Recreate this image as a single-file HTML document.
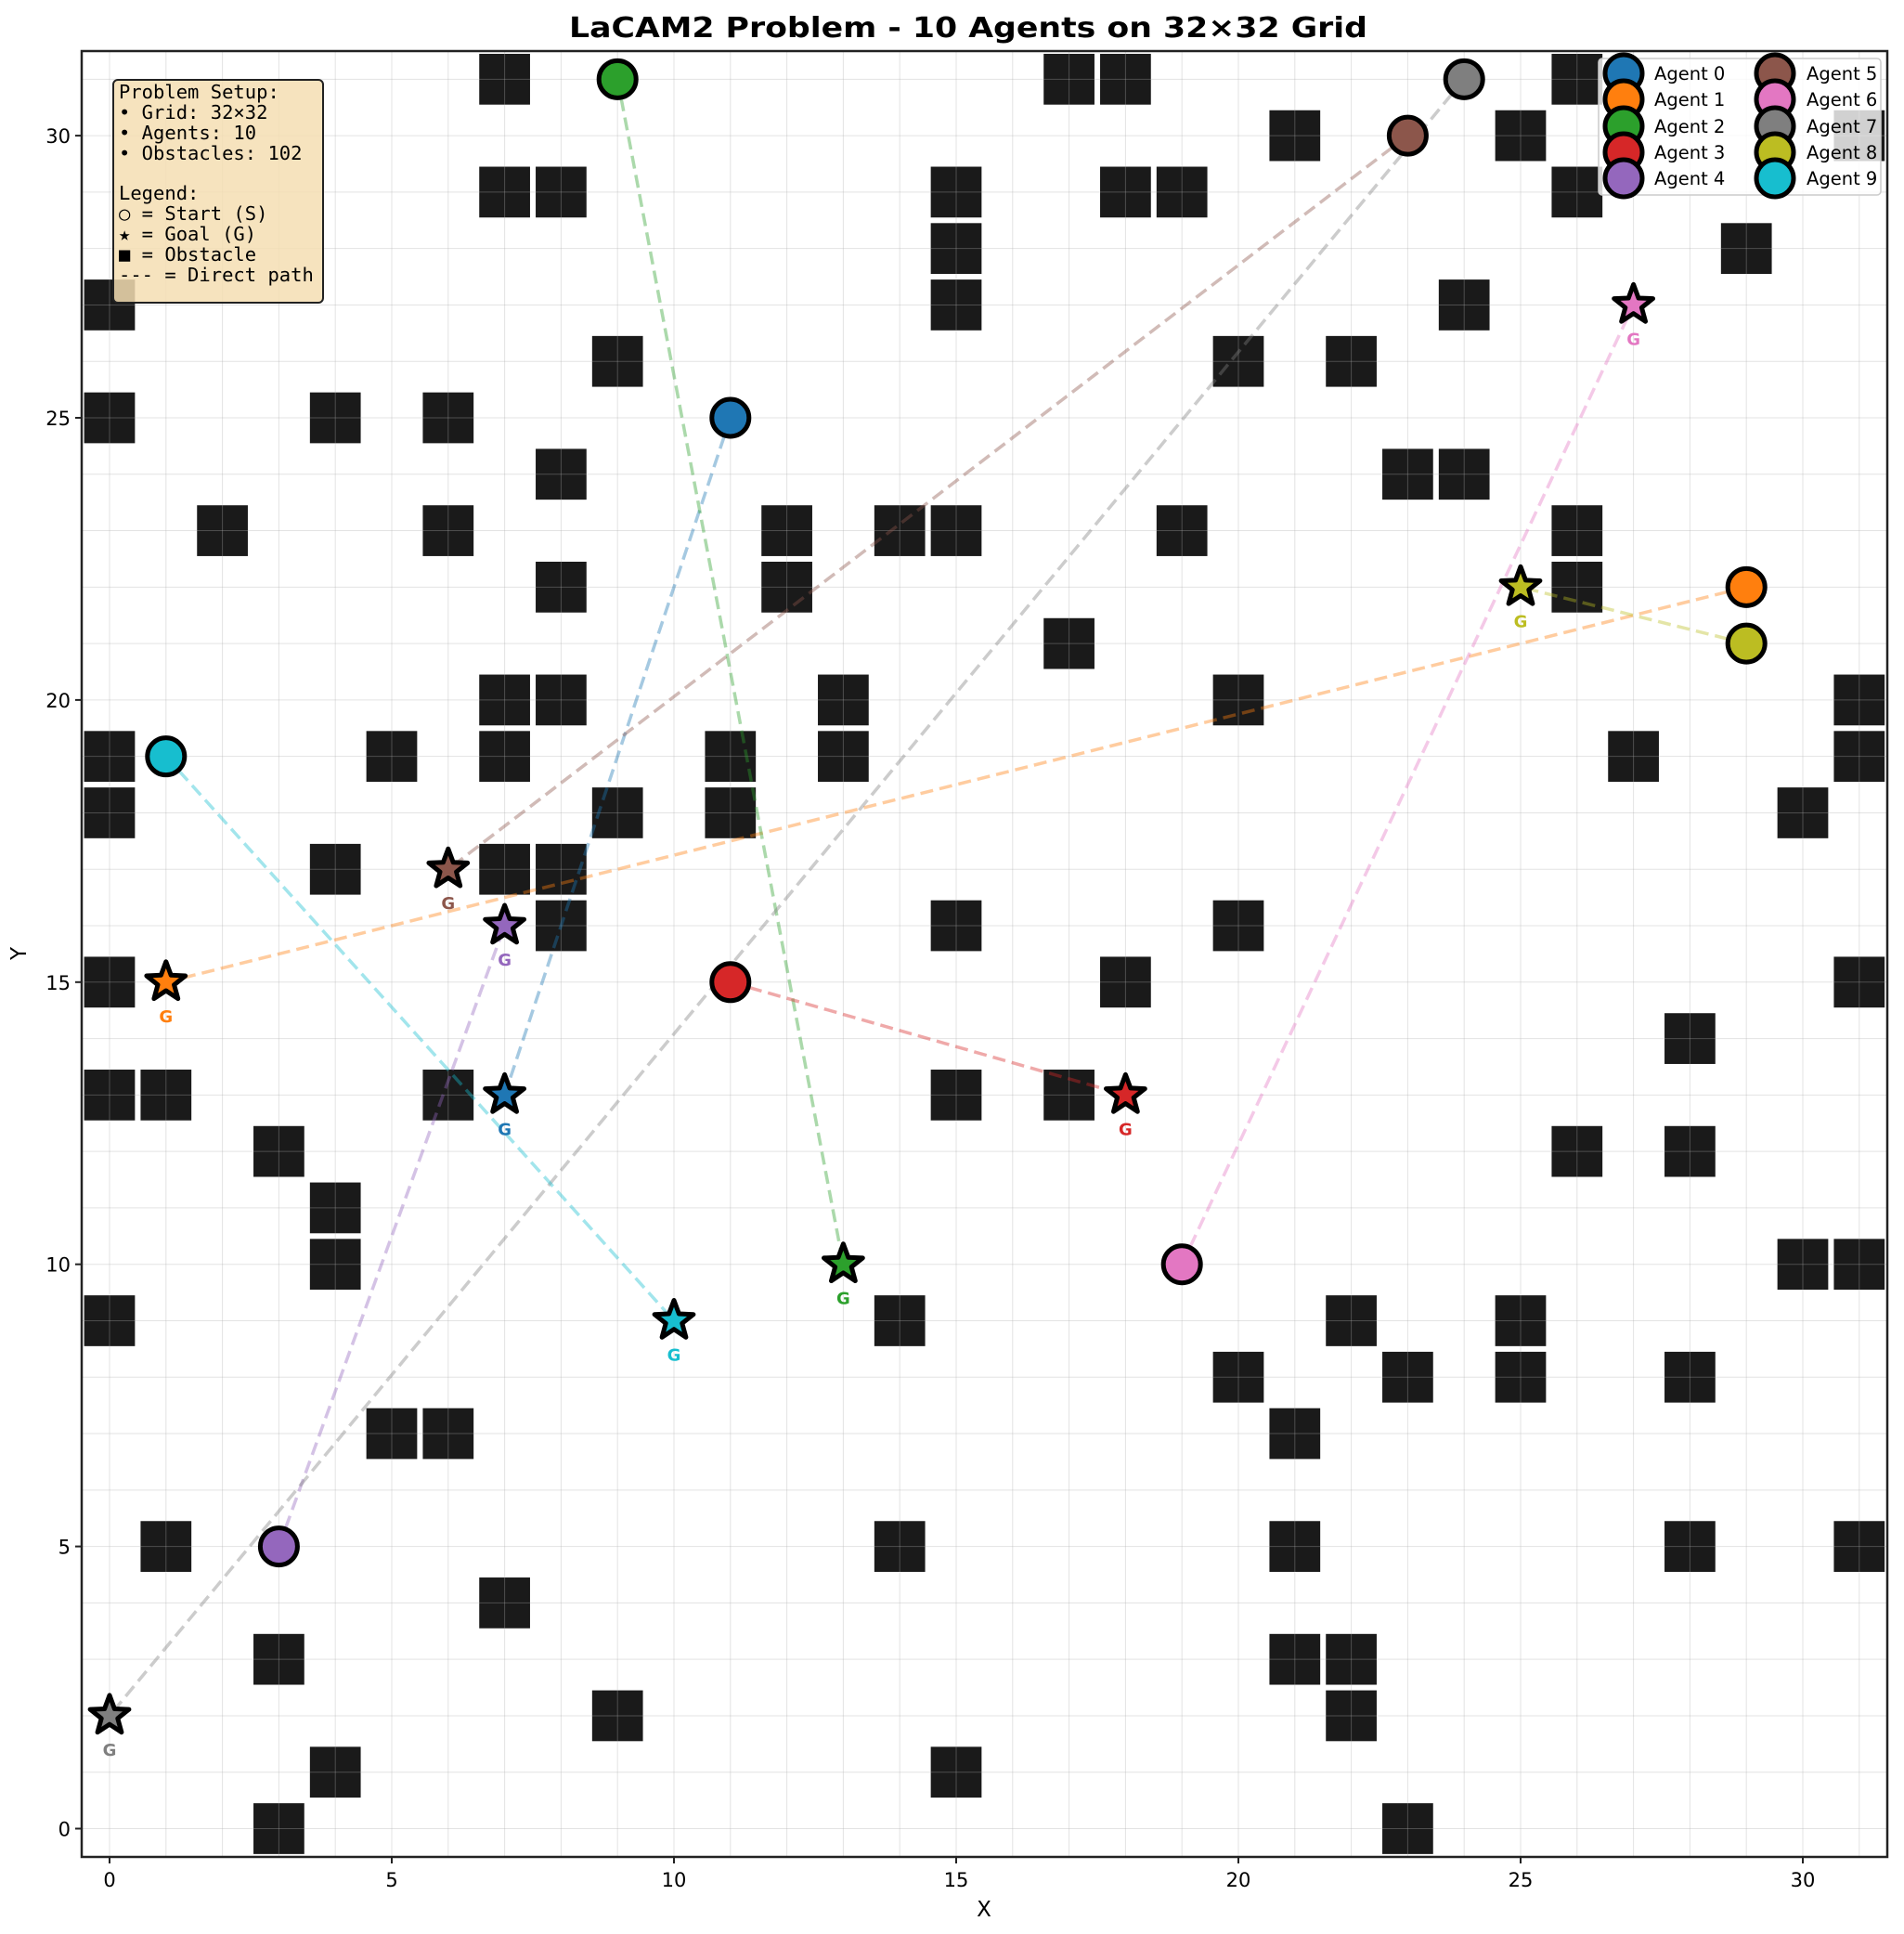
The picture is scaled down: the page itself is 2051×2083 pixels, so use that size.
<!DOCTYPE html>
<html><head><meta charset="utf-8"><style>body{margin:0;background:#fff}svg{display:block}</style></head>
<body>
<svg id="chart" width="2051" height="2083" viewBox="0 0 2051 2083" xmlns="http://www.w3.org/2000/svg" font-family="DejaVu Sans, Liberation Sans, sans-serif">
<rect width="2051" height="2083" fill="#fff"/>
<text x="1043" y="40" text-anchor="middle" font-size="30" font-weight="bold" textLength="860" lengthAdjust="spacingAndGlyphs">LaCAM2 Problem - 10 Agents on 32×32 Grid</text>
<g id="obst"></g>
<g id="grid"></g>
<g id="paths"></g>
<g id="marks"></g>
<rect x="88" y="55" width="1945" height="1945" fill="none" stroke="#222" stroke-width="2.5"/>
<g id="ticks" font-size="21"></g>
<text x="1060" y="2064" text-anchor="middle" font-size="23">X</text>
<text x="28" y="1027" text-anchor="middle" font-size="23" transform="rotate(-90 28 1027)">Y</text>
<g>
<rect x="122" y="86" width="226" height="240" rx="5" fill="#f5deb3" fill-opacity="0.85" stroke="#222" stroke-width="2"/>
<text font-family="DejaVu Sans Mono, Liberation Mono, monospace" font-size="20.5">
<tspan x="128" y="106">Problem Setup:</tspan>
<tspan x="128" y="128">• Grid: 32×32</tspan>
<tspan x="128" y="150">• Agents: 10</tspan>
<tspan x="128" y="172">• Obstacles: 102</tspan>
<tspan x="128" y="215">Legend:</tspan>
<tspan x="128" y="237">○ = Start (S)</tspan>
<tspan x="128" y="259">★ = Goal (G)</tspan>
<tspan x="128" y="281">■ = Obstacle</tspan>
<tspan x="128" y="303">--- = Direct path</tspan>
</text></g>
<g id="legend"></g>
</svg>
<script>
const obstacles=[[7,31],[17,31],[18,31],[26,31],[21,30],[25,30],[31,30],[7,29],[8,29],[15,29],[18,29],[19,29],[26,29],[15,28],[29,28],[0,27],[15,27],[24,27],[9,26],[20,26],[22,26],[0,25],[4,25],[6,25],[8,24],[23,24],[24,24],[2,23],[6,23],[12,23],[14,23],[15,23],[19,23],[26,23],[8,22],[12,22],[26,22],[17,21],[7,20],[8,20],[13,20],[20,20],[31,20],[0,19],[5,19],[7,19],[11,19],[13,19],[27,19],[31,19],[0,18],[9,18],[11,18],[30,18],[4,17],[7,17],[8,17],[8,16],[15,16],[20,16],[0,15],[18,15],[31,15],[28,14],[0,13],[1,13],[6,13],[15,13],[17,13],[3,12],[26,12],[28,12],[4,11],[4,10],[30,10],[31,10],[0,9],[14,9],[22,9],[25,9],[20,8],[23,8],[25,8],[28,8],[5,7],[6,7],[21,7],[1,5],[14,5],[21,5],[28,5],[31,5],[7,4],[3,3],[21,3],[22,3],[9,2],[22,2],[4,1],[15,1],[3,0],[23,0]];
const agentNames=["Agent 0","Agent 1","Agent 2","Agent 3","Agent 4","Agent 5","Agent 6","Agent 7","Agent 8","Agent 9"];
const startX=[11,29,9,11,3,23,19,24,29,1];
const startY=[25,22,31,15,5,30,10,31,21,19];
const goalX=[7,1,13,18,7,6,27,0,25,10];
const goalY=[13,15,10,13,16,17,27,2,22,9];
const colors=["#1f77b4","#ff7f0e","#2ca02c","#d62728","#9467bd","#8c564b","#e377c2","#7f7f7f","#bcbd22","#17becf"];
const ticks=[0,5,10,15,20,25,30];
const U=60.8;
const sx=v=>118+v*U, sy=v=>1969.5-v*60.78;
const NS="http://www.w3.org/2000/svg";
function mk(tag,attrs,parent){const e=document.createElementNS(NS,tag);for(const k in attrs)e.setAttribute(k,attrs[k]);parent.appendChild(e);return e;}
const og=document.getElementById('obst');
obstacles.forEach(o=>{const r=mk('rect',{x:sx(o[0]-0.45),y:sy(o[1]+0.45),width:0.9*U,height:0.9*U,fill:'#1a1a1a'},og);

});
const gg=document.getElementById('grid');
for(let i=0;i<=31;i++){mk('line',{x1:sx(i),x2:sx(i),y1:55,y2:2000,stroke:'#b0b0b0','stroke-opacity':0.35,'stroke-width':1},gg);
mk('line',{y1:sy(i),y2:sy(i),x1:88,x2:2033,stroke:'#b0b0b0','stroke-opacity':0.35,'stroke-width':1},gg);}
const tg=document.getElementById('ticks');
ticks.forEach(t=>{mk('line',{x1:sx(t),x2:sx(t),y1:2000,y2:2007,stroke:'#222','stroke-width':2},tg);
const a=mk('text',{x:sx(t),y:2032,'text-anchor':'middle'},tg);a.textContent=t;


mk('line',{x1:81,x2:88,y1:sy(t),y2:sy(t),stroke:'#222','stroke-width':2},tg);
const b=mk('text',{x:76,y:sy(t)+8,'text-anchor':'end'},tg);b.textContent=t;

});
const pg=document.getElementById('paths'),mg=document.getElementById('marks');
function star(cx,cy,R){const r=R*0.42;let p=[];for(let i=0;i<10;i++){const a=-Math.PI/2+i*Math.PI/5,rr=i%2?r:R;p.push((cx+rr*Math.cos(a)).toFixed(1)+','+(cy+rr*Math.sin(a)).toFixed(1));}return p.join(' ');}
for(let i=0;i<10;i++){
const l=mk('line',{x1:sx(startX[i]),y1:sy(startY[i]),x2:sx(goalX[i]),y2:sy(goalY[i]),stroke:colors[i],'stroke-opacity':0.4,'stroke-width':3.5,'stroke-dasharray':'14,7'},pg);


const c=mk('circle',{cx:sx(startX[i]),cy:sy(startY[i]),r:20,fill:colors[i],stroke:'#000','stroke-width':5},mg);


const s=mk('polygon',{points:star(sx(goalX[i]),sy(goalY[i]),22),fill:colors[i],stroke:'#000','stroke-width':5,'stroke-linejoin':'round'},mg);


const g=mk('text',{x:sx(goalX[i]),y:sy(goalY[i])+43,'text-anchor':'middle','font-size':18,'font-weight':'bold',fill:colors[i]},mg);g.textContent='G';

}
const lg=document.getElementById('legend');
mk('rect',{x:1722,y:63,width:304,height:147,rx:4,fill:'#fff','fill-opacity':0.8,stroke:'#ccc','stroke-width':1.5},lg);
const rowsY=[79,107,136,164,192];
for(let i=0;i<10;i++){const col=i<5?0:1,row=i%5;const mx=col?1912:1749,tx=col?1946:1782;
const c=mk('circle',{cx:mx,cy:rowsY[row],r:20,fill:colors[i],stroke:'#000','stroke-width':5},lg);


const t=mk('text',{x:tx,y:rowsY[row]+7,'font-size':19.5},lg);t.textContent=agentNames[i];

}
</script>
</body></html>
